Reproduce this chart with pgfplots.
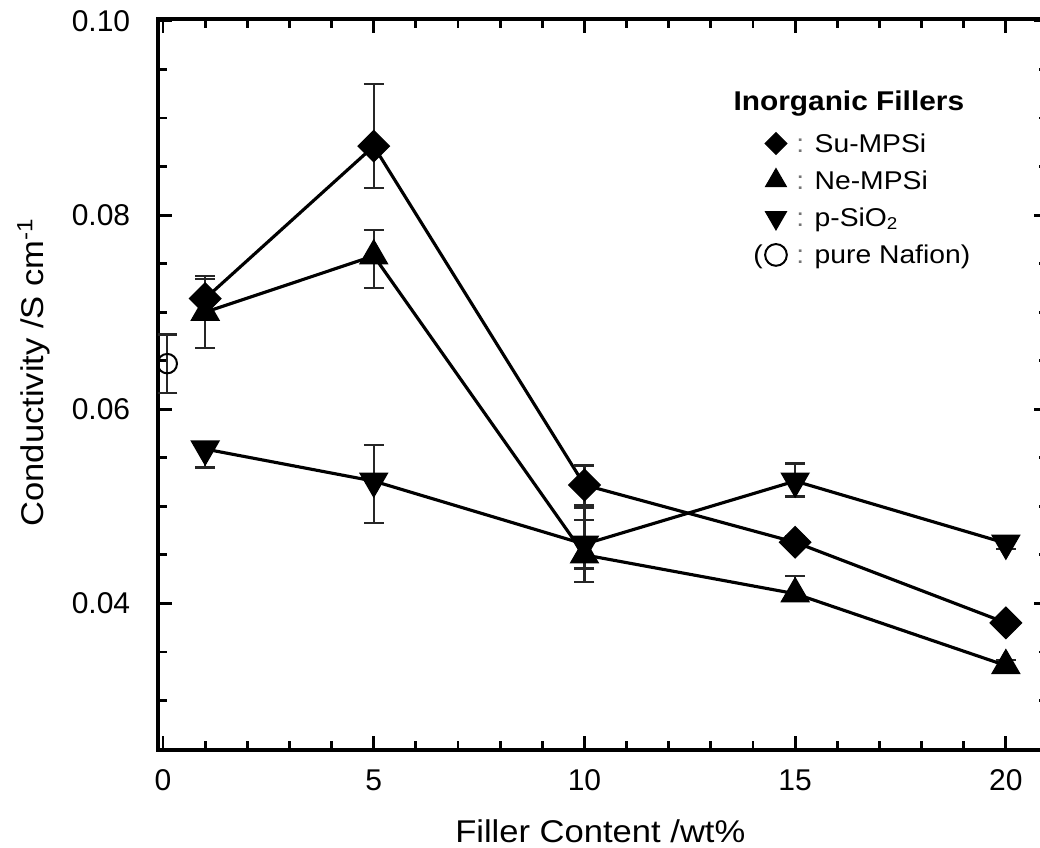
\documentclass[border=0pt]{standalone}
\usepackage{fontspec}
\setmainfont{Liberation Sans}[FakeStretch=1.1]
\newfontfamily\tickfont{Liberation Sans}
\usepackage{pgfplots}
\pgfplotsset{compat=1.18}
\newcommand\legfont{\fontsize{9}{11}\selectfont}
\pgfplotsset{
 legdiam/.style={legend image code/.code={\draw[##1,mark size=2.7pt] plot coordinates {(0pt,0pt)};}},
 legtri/.style={legend image code/.code={\draw[##1,mark size=4.2pt] plot coordinates {(0pt,0pt)};}},
 legnaf/.style={legend image code/.code={\node[anchor=base east,inner sep=0pt,font=\legfont] at (-4.6pt,-3pt) {(}; \draw[##1,mark size=3.8pt] plot coordinates {(0pt,0pt)};}},
 eb/.style={error bars/y dir=both, error bars/y explicit,
   error bars/error bar style={line width=0.8pt,solid,black!85},
   error bars/error mark options={rotate=90,mark size=3.5pt,line width=0.8pt,black!85}},
}
\begin{document}
\begin{tikzpicture}
\useasboundingbox (-55.3pt,-34.3pt) rectangle (308.7pt,262.5pt);
\begin{axis}[
 at={(0pt,0pt)}, anchor=south west,
 scale only axis, width=311.5pt, height=255.85pt,
 xmin=-0.12, xmax=21, ymin=0.0249, ymax=0.1002,
 axis line style={line width=1.3pt},
 every tick/.style={line width=1pt, black},
 major tick length=5pt, minor tick length=3.3pt,
 tick align=inside,
 xtick={0,5,10,15,20},
 minor xtick={1,2,3,4,6,7,8,9,11,12,13,14,16,17,18,19},
 ytick={0.04,0.06,0.08,0.10},
 minor ytick={0.03,0.035,0.045,0.05,0.055,0.065,0.07,0.075,0.085,0.09,0.095},
 scaled y ticks=false,
 tick label style={font=\tickfont\fontsize{10.5}{12}\selectfont},
 /pgf/number format/assume math mode=true,
 y tick label style={/pgf/number format/fixed, /pgf/number format/fixed zerofill, /pgf/number format/precision=2, xshift=-6.2pt},
 x tick label style={yshift=-3.4pt},
 xlabel={Filler Content /wt\%},
 xlabel style={at={(axis description cs:0.497,-0.127)}, anchor=base, font=\fontsize{11}{13}\selectfont},
 ylabel={Conductivity /S cm\textsuperscript{-1}},
 ylabel style={at={(axis description cs:-0.1284,0.5172)}, anchor=base, font=\fontsize{11}{13}\selectfont},
 legend style={at={(axis description cs:0.669,0.8551)}, anchor=north west, draw=none, fill=none,
   inner sep=0pt, outer sep=0pt, row sep=0pt, column sep=3.3pt,
   nodes={inner sep=0pt, text height=9.5pt, text depth=3.5pt}, font=\legfont},
 legend cell align=left,
]
\addplot[black, line width=1.1pt, mark=square*, mark size=3.9pt, mark options={rotate=45, line width=0.4pt, fill=black}, legdiam, eb]
 coordinates {
 (1,0.0714) += (0,0.0020) -= (0,0.0020)
 (5,0.0871) += (0,0.0064) -= (0,0.0043)
 (10,0.0522) += (0,0.0020) -= (0,0.0021)
 (15,0.0463) += (0,0.0006) -= (0,0.0006)
 (20,0.0380) += (0,0.0006) -= (0,0.0006)
 };
\addlegendentry{{\color{black!55}:} Su-MPSi}
\addplot[black, line width=1.1pt, mark=triangle*, mark size=5.6pt, mark options={line width=0.4pt, fill=black}, legtri, eb]
 coordinates {
 (1,0.0700) += (0,0.0037) -= (0,0.0037)
 (5,0.0758) += (0,0.0027) -= (0,0.0033)
 (10,0.0450) += (0,0.0048) -= (0,0.0028)
 (15,0.0410) += (0,0.0018) -= (0,0.0006)
 (20,0.0336) += (0,0.0006) -= (0,0.0006)
 };
\addlegendentry{{\color{black!55}:} Ne-MPSi}
\addplot[black, line width=1.1pt, mark=triangle*, mark size=5.6pt, mark options={rotate=180, line width=0.4pt, fill=black}, legtri, eb]
 coordinates {
 (1,0.0559) += (0,0.0006) -= (0,0.0019)
 (5,0.0526) += (0,0.0037) -= (0,0.0043)
 (10,0.0461) += (0,0.0025) -= (0,0.0025)
 (15,0.0526) += (0,0.0018) -= (0,0.0016)
 (20,0.0462) += (0,0.0006) -= (0,0.0006)
 };
\addlegendentry{{\color{black!55}:} p-SiO\textsubscript{2}}
\addplot[black, only marks, mark=o, mark size=3.4pt, mark options={line width=0.7pt, fill=white}, legnaf, eb]
 coordinates {(0.1,0.0647) += (0,0.0030) -= (0,0.0030)};
\addlegendentry{{\color{black!55}:} pure Nafion)}
\node[anchor=base west, inner sep=0pt, font=\fontsize{9.5}{11}\selectfont\bfseries] at (axis description cs:0.646,0.8755) {Inorganic Fillers};
\end{axis}
\end{tikzpicture}
\end{document}
